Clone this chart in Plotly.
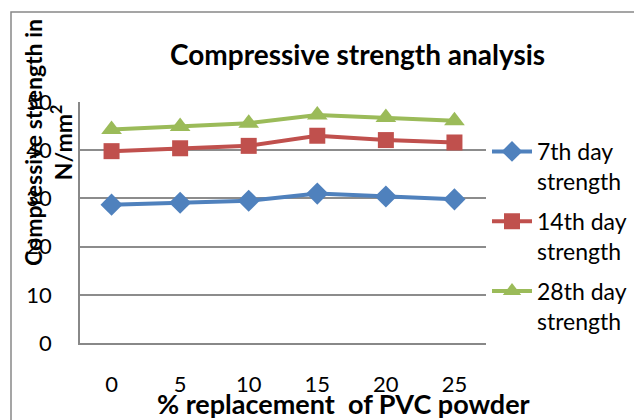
import plotly.graph_objects as go

categories = ["0", "5", "10", "15", "20", "25"]
day7 = [28.7, 29.1, 29.5, 31.0, 30.4, 29.8]
day14 = [39.8, 40.4, 40.9, 43.0, 42.1, 41.6]
day28 = [44.3, 44.9, 45.6, 47.3, 46.8, 46.1]
series_names = ["7th day<br>strength", "14th day<br>strength", "28th day<br>strength"]
y_ticks = [0, 10, 20, 30, 40, 50]

FONT = "Lato"
W, H = 634, 420
L, R, T, B = 80, 486, 102, 343

def px(x):
    return (x - L) / (R - L)

def py(y):
    return (B - y) / (B - T)

fig = go.Figure()
styles = [
    (day7, "#4F81BD", "diamond", 17),
    (day14, "#C0504D", "square", 16),
    (day28, "#9BBB59", "triangle-up", 18),
]
for i, ((vals, col, sym, sz), name) in enumerate(zip(styles, series_names)):
    fig.add_trace(go.Scatter(
        x=categories, y=vals, name=name, mode="lines+markers",
        legendgroup=f"g{i}",
        line=dict(color=col, width=4),
        marker=dict(symbol=sym, size=sz, color=col),
    ))

fig.update_layout(
    width=W, height=H,
    margin=dict(l=L, r=W - R, t=T, b=H - B, pad=0, autoexpand=False),
    paper_bgcolor="white", plot_bgcolor="white",
    font=dict(family=FONT, color="black", size=22),
    showlegend=True,
    legend=dict(
        x=px(487), y=py(130), xanchor="left", yanchor="top",
        font=dict(family=FONT, size=23), valign="top",
        bgcolor="rgba(0,0,0,0)", tracegroupgap=7, itemwidth=40,
    ),
    xaxis=dict(
        type="category", showgrid=False, showline=True, linecolor="#888888", linewidth=1.5,
        ticks="", tickfont=dict(family=FONT, size=22), ticklabelstandoff=21,
        zeroline=False,
    ),
    yaxis=dict(
        range=[0, 50], tickvals=y_ticks, showgrid=True, gridcolor="#8c8c8c", gridwidth=1.5,
        showline=True, linecolor="#888888", linewidth=1.5, ticks="",
        tickfont=dict(family=FONT, size=22), ticklabelstandoff=22, zeroline=False,
    ),
    shapes=[dict(type="rect", xref="paper", yref="paper",
                 x0=px(11), x1=px(700), y0=py(480), y1=py(12),
                 line=dict(color="#888888", width=1.5), fillcolor="rgba(0,0,0,0)", layer="below")],
    annotations=[
        dict(text="<b>Compressive strength analysis</b>", xref="paper", yref="paper",
             x=px(357), y=py(54), showarrow=False, font=dict(family=FONT, size=28),
             xanchor="center", yanchor="middle"),
        dict(text="<b>% replacement  of PVC powder</b>", xref="paper", yref="paper",
             x=px(343), y=py(403), showarrow=False, font=dict(family=FONT, size=27),
             xanchor="center", yanchor="middle"),
        dict(text="<b>Compressive strength in<br>N/mm<sup>2</sup></b>", xref="paper", yref="paper",
             x=px(48), y=py(143), showarrow=False, textangle=-90, font=dict(family=FONT, size=23),
             xanchor="center", yanchor="middle"),
    ],
)

fig.write_html("out.html")
